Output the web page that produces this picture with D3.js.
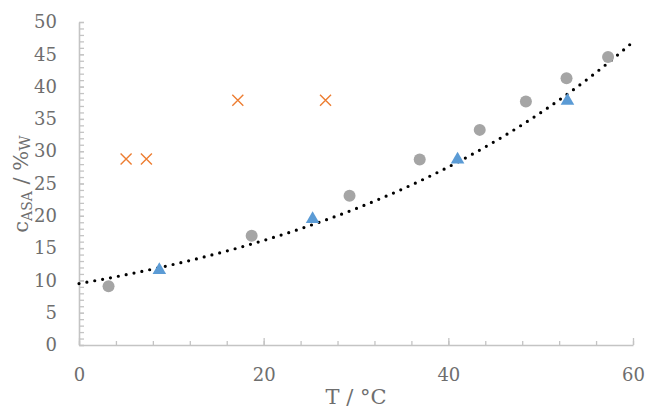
<!DOCTYPE html>
<html>
<head>
<meta charset="utf-8">
<script src="https://cdn.jsdelivr.net/npm/d3@7"></script>
<style>
  body { margin: 0; background: #fff; }
  text { font-family: "DejaVu Serif", serif; }
</style>
</head>
<body>
<div id="chart"></div>
<script>
// Data (T in °C, c in %w)
const circleT = [3.2, 18.7, 29.3, 36.9, 43.4, 48.4, 52.8, 57.3];
const circleC = [9.1, 16.9, 23.1, 28.7, 33.3, 37.7, 41.3, 44.6];
const triangleT = [8.7, 25.3, 41.0, 52.9];
const triangleC = [11.6, 19.5, 28.7, 37.8];
const crossT = [5.1, 7.3, 17.2, 26.7];
const crossC = [28.8, 28.8, 37.9, 37.9];
const xLabels = [0, 20, 40, 60];
const yLabels = [0, 5, 10, 15, 20, 25, 30, 35, 40, 45, 50];

const W = 648, H = 410;
const svg = d3.select("#chart").append("svg")
    .attr("width", W).attr("height", H);

const x = d3.scaleLinear().domain([0, 60]).range([79, 633]);
const y = d3.scaleLinear().domain([0, 50]).range([345, 22]);

const axisColor = "#c4c4c4", textColor = "#6e6e6e";

// Minor ticks on x (every 4), pointing inside
svg.append("g")
    .attr("transform", `translate(0,${y(0)})`)
    .call(d3.axisBottom(x).tickValues(d3.range(0, 61, 4)).tickSize(-4).tickFormat(""))
    .call(g => g.select(".domain").remove());

// Major x axis
const xAxis = svg.append("g")
    .attr("transform", `translate(0,${y(0)})`)
    .call(d3.axisBottom(x).tickValues(xLabels).tickSizeInner(-7).tickSizeOuter(0).tickPadding(23));

// Minor ticks on y (every 1)
svg.append("g")
    .attr("transform", `translate(${x(0)},0)`)
    .call(d3.axisLeft(y).tickValues(d3.range(0, 51, 1)).tickSize(-5).tickFormat(""))
    .call(g => g.select(".domain").remove());

const yAxis = svg.append("g")
    .attr("transform", `translate(${x(0)},0)`)
    .call(d3.axisLeft(y).tickValues(yLabels).tickSizeInner(-5).tickSizeOuter(0).tickPadding(22));

[xAxis, yAxis].forEach(g => {
  g.select(".domain").attr("stroke", axisColor).attr("stroke-width", 1.6);
  g.selectAll("text").attr("fill", textColor).attr("font-size", 18)
    .attr("font-family", "DejaVu Serif");
});
svg.selectAll(".tick line").attr("stroke", axisColor).attr("stroke-width", 1.3);

// Exponential trendline fitted to the triangle series
const lnC = triangleC.map(Math.log);
const mT = d3.mean(triangleT), mL = d3.mean(lnC);
const b = d3.sum(triangleT, (t, i) => (t - mT) * (lnC[i] - mL)) /
          d3.sum(triangleT, t => (t - mT) ** 2);
const a = Math.exp(mL - b * mT);
const fitT = d3.range(0, 60.01, 0.5);

svg.append("path")
    .datum(fitT)
    .attr("fill", "none")
    .attr("stroke", "#000")
    .attr("stroke-width", 3.2)
    .attr("stroke-linecap", "round")
    .attr("stroke-dasharray", "0 8")
    .attr("d", d3.line().x(t => x(t)).y(t => y(a * Math.exp(b * t))));

// Gray circles
svg.append("g").selectAll("circle")
  .data(circleT)
  .join("circle")
    .attr("cx", d => x(d))
    .attr("cy", (d, i) => y(circleC[i]))
    .attr("r", 6)
    .attr("fill", "#a5a5a5");

// Blue triangles
const tri = d3.symbol().type(d3.symbolTriangle).size(80);
svg.append("g").selectAll("path")
  .data(triangleT)
  .join("path")
    .attr("d", tri)
    .attr("transform", (d, i) => `translate(${x(d)},${y(triangleC[i])})`)
    .attr("fill", "#5b9bd5");

// Orange crosses
svg.append("g").selectAll("path")
  .data(crossT)
  .join("path")
    .attr("d", "M-5.5,-5.5L5.5,5.5M-5.5,5.5L5.5,-5.5")
    .attr("transform", (d, i) => `translate(${x(d)},${y(crossC[i])})`)
    .attr("stroke", "#ed7d31")
    .attr("stroke-width", 1.4)
    .attr("fill", "none");

// Axis titles
svg.append("text")
    .attr("x", (x(0) + x(60)) / 2)
    .attr("y", 404)
    .attr("text-anchor", "middle")
    .attr("fill", textColor)
    .attr("font-size", 21)
    .text("T / °C");

const yTitle = svg.append("text")
    .attr("transform", "translate(28,184) rotate(-90)")
    .attr("text-anchor", "middle")
    .attr("fill", textColor)
    .attr("font-size", 21);
yTitle.append("tspan").text("c");
yTitle.append("tspan").attr("font-size", 14).attr("dy", 4).text("ASA");
yTitle.append("tspan").attr("dy", -4).text(" / %");
yTitle.append("tspan").attr("font-size", 15).attr("dy", 2).text("W");
</script>
</body>
</html>
